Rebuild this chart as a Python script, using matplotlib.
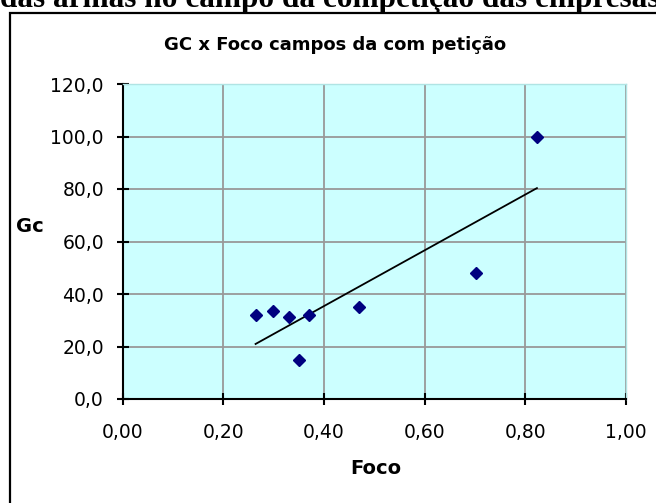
import numpy as np
import matplotlib
matplotlib.use("Agg")
import matplotlib.pyplot as plt
from matplotlib.patches import Rectangle

# Data
foco = [0.264, 0.299, 0.331, 0.370, 0.351, 0.470, 0.702, 0.823]
gc = [32.1, 33.6, 31.2, 32.1, 14.7, 35.2, 47.9, 100.0]
x_ticks = [0.0, 0.2, 0.4, 0.6, 0.8, 1.0]
y_ticks = [0, 20, 40, 60, 80, 100, 120]

title = "GC x Foco campos da com petição"
page_text = "das armas no campo da competição das empresas"

plt.rcParams["font.family"] = ["DejaVu Sans"]

fig = plt.figure(figsize=(6.56, 5.03), dpi=100)
fig.patch.set_facecolor("white")

# text of the page above the chart, cut at the top edge as in the scan
fig.text(0.0, 1 - 7.5 / 503, page_text, family=["Liberation Serif", "DejaVu Serif"],
         fontweight="bold", fontsize=22.5, ha="left", va="baseline")

# chart area border (only left and top visible in the crop)
fig.patches.append(Rectangle((10 / 656, -0.1), 1.2, 1 - 13.5 / 503 + 0.1,
                             transform=fig.transFigure, facecolor="none",
                             edgecolor="black", linewidth=1.6, zorder=0))

ax = fig.add_axes([122.7 / 656, 1 - 399 / 503, (626 - 122.7) / 656, (399 - 84) / 503])
ax.set_facecolor("#CCFFFF")

ax.set_xlim(0, 1)
ax.set_ylim(0, 120)
ax.set_xticks(x_ticks)
ax.set_yticks(y_ticks)
ax.set_xticklabels([f"{v:.2f}".replace(".", ",") for v in x_ticks])
ax.set_yticklabels([f"{v:.1f}".replace(".", ",") for v in y_ticks])
ax.grid(True, color="#999999", linewidth=1.3)
ax.set_axisbelow(True)

for side in ("left", "bottom"):
    ax.spines[side].set_color("black")
    ax.spines[side].set_linewidth(1.5)
for side in ("top", "right"):
    ax.spines[side].set_color("#B0E4E4")
    ax.spines[side].set_linewidth(1.0)

ax.tick_params(axis="both", direction="inout", length=9, width=1.5,
               labelsize=13.5, colors="black")
ax.tick_params(axis="x", pad=13)
ax.tick_params(axis="y", pad=9)

# points
ax.plot(foco, gc, linestyle="none", marker="D", markersize=6,
        color="#000080", zorder=5, clip_on=False)

# linear trend line over the data range
k, b = np.polyfit(foco, gc, 1)
xs = np.array([min(foco), max(foco)])
ax.plot(xs, k * xs + b, color="black", linewidth=1.3, zorder=4)

fig.text(335 / 656, 1 - 45 / 503, title, fontweight="bold", fontsize=13,
         ha="center", va="center")
fig.text(30 / 656, 1 - 227 / 503, "Gc", fontweight="bold", fontsize=14,
         ha="center", va="center")
fig.text(376 / 656, 1 - 468 / 503, "Foco", fontweight="bold", fontsize=14,
         ha="center", va="center")

fig.savefig("out.png", dpi=100)
